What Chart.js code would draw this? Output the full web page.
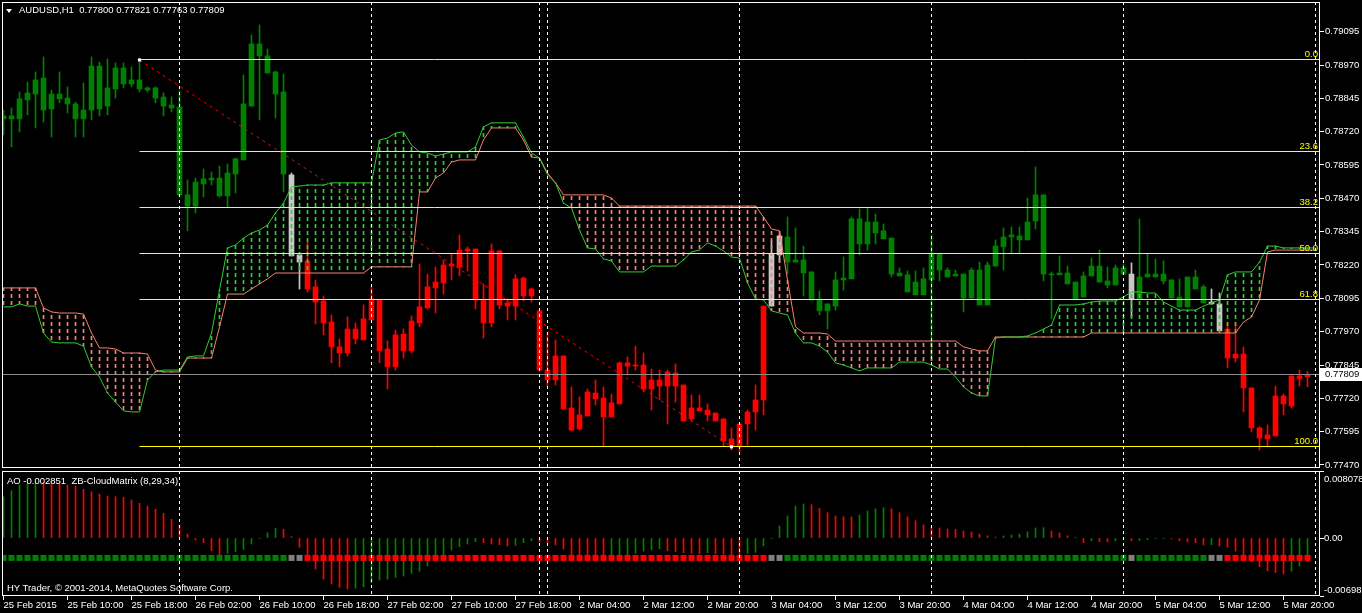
<!DOCTYPE html>
<html>
<head>
<meta charset="utf-8">
<script src="https://cdn.jsdelivr.net/npm/chart.js@4.4.1/dist/chart.umd.min.js"></script>
<style>
  html, body { margin: 0; padding: 0; background: #000; }
  #wrap { position: relative; width: 1362px; height: 613px; overflow: hidden; background: #000; }
  canvas { position: absolute; left: 0; }
  #main { top: 0; }
  #sub { top: 470px; }
  .txt { position: absolute; color: #fff; white-space: pre; line-height: 12px; }
  #tri { position: absolute; left: 6px; top: 9px; width: 0; height: 0;
         border-left: 3px solid transparent; border-right: 3px solid transparent; border-top: 4px solid #fff; }
</style>
</head>
<body>
<div id="wrap">
  <canvas id="main" width="1362" height="470"></canvas>
  <canvas id="sub" width="1362" height="143"></canvas>
  <div id="tri"></div>
  <div class="txt" id="hdr" style="left:19px;top:4px">AUDUSD,H1  0.77800 0.77821 0.77763 0.77809</div>
  <div class="txt" id="aoHdr" style="left:7px;top:475px">AO -0.002851  ZB-CloudMatrix (8,29,34)</div>
  <div class="txt" id="copy" style="left:7px;top:582px">HY Trader, © 2001-2014, MetaQuotes Software Corp.</div>
</div>
<script>
// AUDUSD H1, 25 Feb 2015 02:00 .. 5 Mar 2015 23:00 (164 bars, bar index = x value)
const openP = [
  0.78768, 0.78779, 0.78768, 0.78839, 0.78861, 0.78921, 0.78805, 0.78861, 0.78846, 0.78824,
  0.78768, 0.78801, 0.78966, 0.78816, 0.78880, 0.78959, 0.78899, 0.78914, 0.78884, 0.78884,
  0.78850, 0.78820, 0.78813, 0.78483, 0.78441, 0.78524, 0.78539, 0.78546, 0.78479, 0.78561,
  0.78614, 0.78816, 0.79049, 0.79004, 0.78944, 0.78869, 0.78558, 0.78258, 0.78235, 0.78138,
  0.78085, 0.78006, 0.77913, 0.77890, 0.77980, 0.77939, 0.78014, 0.78089, 0.77905, 0.77838,
  0.77961, 0.77898, 0.78003, 0.78059, 0.78134, 0.78153, 0.78216, 0.78213, 0.78273, 0.78280,
  0.78089, 0.78003, 0.78273, 0.78066, 0.78066, 0.78171, 0.78104, 0.78048, 0.77826, 0.77789,
  0.77879, 0.77684, 0.77605, 0.77654, 0.77740, 0.77721, 0.77650, 0.77699, 0.77853, 0.77841,
  0.77845, 0.77755, 0.77789, 0.77766, 0.77815, 0.77770, 0.77643, 0.77684, 0.77676, 0.77665,
  0.77643, 0.77568, 0.77538, 0.77624, 0.77669, 0.77714, 0.78066, 0.78258, 0.78325, 0.78231,
  0.78239, 0.78194, 0.78089, 0.78048, 0.78066, 0.78164, 0.78168, 0.78393, 0.78299, 0.78381,
  0.78348, 0.78321, 0.78190, 0.78183, 0.78108, 0.78108, 0.78164, 0.78261, 0.78201, 0.78179,
  0.78186, 0.78096, 0.78201, 0.78070, 0.78216, 0.78288, 0.78325, 0.78329, 0.78314, 0.78385,
  0.78483, 0.78186, 0.78183, 0.78190, 0.78156, 0.78100, 0.78179, 0.78216, 0.78160, 0.78145,
  0.78209, 0.78186, 0.78093, 0.78175, 0.78186, 0.78186, 0.78164, 0.78100, 0.78063, 0.78175,
  0.78138, 0.78081, 0.78074, 0.77980, 0.77871, 0.77886, 0.77759, 0.77609, 0.77583, 0.77579,
  0.77729, 0.77691, 0.77804, 0.77800
];
const highP = [
  0.78801, 0.78809, 0.78869, 0.78906, 0.78944, 0.79000, 0.78876, 0.78944, 0.78888, 0.78831,
  0.78903, 0.79000, 0.78981, 0.78993, 0.78978, 0.78978, 0.78963, 0.78989, 0.78888, 0.78888,
  0.78865, 0.78850, 0.78873, 0.78539, 0.78546, 0.78580, 0.78569, 0.78591, 0.78599, 0.78621,
  0.78933, 0.79083, 0.79120, 0.79030, 0.78947, 0.78936, 0.78565, 0.78258, 0.78306, 0.78164,
  0.78104, 0.78033, 0.77943, 0.78025, 0.78003, 0.78070, 0.78138, 0.78089, 0.77935, 0.77976,
  0.77980, 0.78029, 0.78224, 0.78186, 0.78213, 0.78239, 0.78261, 0.78333, 0.78288, 0.78280,
  0.78149, 0.78299, 0.78273, 0.78093, 0.78183, 0.78175, 0.78134, 0.78048, 0.77969, 0.77939,
  0.77879, 0.77763, 0.77725, 0.77755, 0.77789, 0.77763, 0.77736, 0.77856, 0.77875, 0.77916,
  0.77890, 0.77830, 0.77826, 0.77826, 0.77849, 0.77770, 0.77733, 0.77733, 0.77699, 0.77665,
  0.77643, 0.77609, 0.77624, 0.77676, 0.77770, 0.78066, 0.78310, 0.78333, 0.78400, 0.78359,
  0.78291, 0.78194, 0.78123, 0.78074, 0.78194, 0.78250, 0.78400, 0.78430, 0.78434, 0.78411,
  0.78374, 0.78321, 0.78209, 0.78198, 0.78198, 0.78209, 0.78333, 0.78261, 0.78209, 0.78201,
  0.78186, 0.78209, 0.78231, 0.78231, 0.78314, 0.78359, 0.78363, 0.78363, 0.78471, 0.78588,
  0.78483, 0.78194, 0.78254, 0.78216, 0.78156, 0.78194, 0.78246, 0.78276, 0.78213, 0.78220,
  0.78224, 0.78228, 0.78393, 0.78261, 0.78243, 0.78235, 0.78164, 0.78168, 0.78175, 0.78201,
  0.78145, 0.78130, 0.78115, 0.78006, 0.78006, 0.77913, 0.77759, 0.77613, 0.77620, 0.77766,
  0.77736, 0.77804, 0.77826, 0.77821
];
const lowP = [
  0.78708, 0.78663, 0.78719, 0.78783, 0.78734, 0.78756, 0.78700, 0.78828, 0.78790, 0.78700,
  0.78700, 0.78764, 0.78779, 0.78783, 0.78846, 0.78884, 0.78888, 0.78869, 0.78869, 0.78828,
  0.78779, 0.78794, 0.78475, 0.78348, 0.78415, 0.78475, 0.78520, 0.78475, 0.78438, 0.78490,
  0.78614, 0.78816, 0.78764, 0.78940, 0.78771, 0.78494, 0.78254, 0.78130, 0.78119, 0.77999,
  0.77958, 0.77853, 0.77838, 0.77879, 0.77924, 0.77939, 0.78014, 0.77853, 0.77755, 0.77826,
  0.77871, 0.77890, 0.77988, 0.78055, 0.78040, 0.78111, 0.78164, 0.78179, 0.78198, 0.78055,
  0.77946, 0.77988, 0.78055, 0.78014, 0.78014, 0.78085, 0.78081, 0.77826, 0.77766, 0.77770,
  0.77680, 0.77598, 0.77601, 0.77654, 0.77695, 0.77541, 0.77650, 0.77699, 0.77811, 0.77826,
  0.77744, 0.77676, 0.77714, 0.77624, 0.77706, 0.77635, 0.77635, 0.77673, 0.77635, 0.77635,
  0.77541, 0.77526, 0.77519, 0.77545, 0.77601, 0.77658, 0.78066, 0.78231, 0.78186, 0.78231,
  0.78104, 0.78089, 0.78033, 0.77980, 0.78051, 0.78126, 0.78168, 0.78258, 0.78276, 0.78299,
  0.78318, 0.78175, 0.78179, 0.78119, 0.78108, 0.78108, 0.77864, 0.78160, 0.78175, 0.78179,
  0.78044, 0.78096, 0.78070, 0.78070, 0.78216, 0.78201, 0.78265, 0.78265, 0.78314, 0.78355,
  0.78160, 0.78018, 0.78183, 0.78149, 0.78089, 0.78100, 0.78179, 0.78156, 0.78134, 0.78145,
  0.78186, 0.78025, 0.78093, 0.78175, 0.78175, 0.78149, 0.78096, 0.78063, 0.78063, 0.78130,
  0.78078, 0.78074, 0.77973, 0.77834, 0.77856, 0.77669, 0.77594, 0.77526, 0.77538, 0.77579,
  0.77658, 0.77684, 0.77766, 0.77763
];
const closeP = [
  0.78779, 0.78768, 0.78843, 0.78865, 0.78914, 0.78801, 0.78861, 0.78843, 0.78824, 0.78768,
  0.78801, 0.78966, 0.78805, 0.78884, 0.78959, 0.78899, 0.78914, 0.78880, 0.78876, 0.78846,
  0.78816, 0.78809, 0.78483, 0.78441, 0.78531, 0.78543, 0.78546, 0.78479, 0.78565, 0.78618,
  0.78824, 0.79049, 0.79004, 0.78940, 0.78861, 0.78561, 0.78254, 0.78231, 0.78130, 0.78081,
  0.78003, 0.77913, 0.77890, 0.77980, 0.77943, 0.78018, 0.78093, 0.77898, 0.77838, 0.77958,
  0.77898, 0.78010, 0.78063, 0.78138, 0.78156, 0.78220, 0.78224, 0.78276, 0.78280, 0.78089,
  0.78003, 0.78273, 0.78070, 0.78078, 0.78168, 0.78104, 0.78130, 0.77826, 0.77789, 0.77879,
  0.77680, 0.77601, 0.77658, 0.77744, 0.77718, 0.77650, 0.77703, 0.77853, 0.77841, 0.77845,
  0.77755, 0.77789, 0.77766, 0.77819, 0.77766, 0.77635, 0.77684, 0.77673, 0.77658, 0.77635,
  0.77560, 0.77538, 0.77624, 0.77669, 0.77714, 0.78066, 0.78261, 0.78329, 0.78231, 0.78239,
  0.78190, 0.78089, 0.78048, 0.78074, 0.78164, 0.78171, 0.78393, 0.78299, 0.78381, 0.78340,
  0.78318, 0.78186, 0.78179, 0.78119, 0.78156, 0.78168, 0.78261, 0.78201, 0.78175, 0.78186,
  0.78096, 0.78201, 0.78070, 0.78220, 0.78291, 0.78325, 0.78333, 0.78314, 0.78381, 0.78483,
  0.78186, 0.78183, 0.78190, 0.78149, 0.78093, 0.78179, 0.78216, 0.78156, 0.78145, 0.78209,
  0.78186, 0.78093, 0.78175, 0.78186, 0.78175, 0.78160, 0.78096, 0.78063, 0.78175, 0.78130,
  0.78078, 0.78074, 0.77973, 0.77871, 0.77886, 0.77759, 0.77609, 0.77571, 0.77568, 0.77729,
  0.77699, 0.77804, 0.77793, 0.77809
];

// cloud lines (green = fast, salmon = slow), one value per bar plus one bar ahead
const cloudFast = [
  0.78063, 0.78063, 0.78074, 0.78066, 0.78066, 0.77965, 0.77931, 0.77928, 0.77928, 0.77928,
  0.77916, 0.77838, 0.77800, 0.77740, 0.77706, 0.77673, 0.77669, 0.77669, 0.77789, 0.77819,
  0.77826, 0.77826, 0.77826, 0.77875, 0.77879, 0.77879, 0.77965, 0.78126, 0.78284, 0.78295,
  0.78321, 0.78340, 0.78351, 0.78370, 0.78415, 0.78452, 0.78513, 0.78516, 0.78520, 0.78520,
  0.78520, 0.78528, 0.78528, 0.78528, 0.78528, 0.78528, 0.78528, 0.78689, 0.78696, 0.78715,
  0.78719, 0.78670, 0.78644, 0.78640, 0.78629, 0.78636, 0.78644, 0.78644, 0.78644, 0.78663,
  0.78738, 0.78753, 0.78753, 0.78753, 0.78753, 0.78700, 0.78640, 0.78621, 0.78558, 0.78528,
  0.78452, 0.78434, 0.78351, 0.78284, 0.78280, 0.78243, 0.78235, 0.78194, 0.78194, 0.78194,
  0.78194, 0.78216, 0.78216, 0.78216, 0.78216, 0.78239, 0.78269, 0.78276, 0.78303, 0.78291,
  0.78273, 0.78250, 0.78246, 0.78153, 0.78093, 0.78089, 0.78048, 0.78040, 0.78033, 0.77965,
  0.77928, 0.77928, 0.77916, 0.77894, 0.77853, 0.77845, 0.77834, 0.77823, 0.77834, 0.77834,
  0.77834, 0.77834, 0.77856, 0.77856, 0.77856, 0.77856, 0.77845, 0.77830, 0.77830, 0.77800,
  0.77763, 0.77740, 0.77729, 0.77729, 0.77946, 0.77950, 0.77950, 0.77950, 0.77954, 0.77965,
  0.77980, 0.77995, 0.78070, 0.78070, 0.78070, 0.78074, 0.78081, 0.78085, 0.78085, 0.78085,
  0.78100, 0.78119, 0.78119, 0.78115, 0.78115, 0.78081, 0.78066, 0.78051, 0.78051, 0.78051,
  0.78066, 0.78078, 0.78089, 0.78183, 0.78194, 0.78194, 0.78194, 0.78231, 0.78291, 0.78291,
  0.78284, 0.78284, 0.78284, 0.78284, 0.78284
];
const cloudSlow = [
  0.78134, 0.78134, 0.78134, 0.78134, 0.78134, 0.78059, 0.78044, 0.78040, 0.78040, 0.78040,
  0.78036, 0.77965, 0.77909, 0.77909, 0.77905, 0.77890, 0.77890, 0.77890, 0.77886, 0.77826,
  0.77819, 0.77819, 0.77819, 0.77871, 0.77871, 0.77871, 0.77871, 0.77988, 0.78111, 0.78111,
  0.78111, 0.78130, 0.78149, 0.78168, 0.78190, 0.78190, 0.78190, 0.78190, 0.78190, 0.78190,
  0.78190, 0.78190, 0.78190, 0.78190, 0.78190, 0.78190, 0.78213, 0.78213, 0.78213, 0.78213,
  0.78213, 0.78213, 0.78494, 0.78494, 0.78546, 0.78565, 0.78606, 0.78614, 0.78614, 0.78614,
  0.78689, 0.78734, 0.78734, 0.78734, 0.78734, 0.78689, 0.78625, 0.78621, 0.78565, 0.78528,
  0.78483, 0.78483, 0.78483, 0.78483, 0.78483, 0.78483, 0.78471, 0.78441, 0.78441, 0.78441,
  0.78441, 0.78441, 0.78441, 0.78441, 0.78441, 0.78441, 0.78441, 0.78441, 0.78441, 0.78441,
  0.78441, 0.78441, 0.78441, 0.78441, 0.78441, 0.78400, 0.78355, 0.78348, 0.78164, 0.77988,
  0.77965, 0.77965, 0.77965, 0.77961, 0.77935, 0.77935, 0.77935, 0.77935, 0.77935, 0.77935,
  0.77935, 0.77935, 0.77935, 0.77935, 0.77935, 0.77935, 0.77935, 0.77935, 0.77935, 0.77935,
  0.77913, 0.77905, 0.77898, 0.77898, 0.77950, 0.77950, 0.77950, 0.77950, 0.77950, 0.77950,
  0.77950, 0.77950, 0.77950, 0.77950, 0.77950, 0.77950, 0.77965, 0.77965, 0.77965, 0.77965,
  0.77965, 0.77965, 0.77965, 0.77965, 0.77965, 0.77965, 0.77965, 0.77965, 0.77965, 0.77965,
  0.77965, 0.77965, 0.77965, 0.77965, 0.77965, 0.78006, 0.78025, 0.78089, 0.78269, 0.78276,
  0.78276, 0.78276, 0.78276, 0.78276, 0.78276
];

// Awesome Oscillator, one value per bar
const aoValues = [
  0.00498, 0.00571, 0.00639, 0.00659, 0.00671, 0.00667, 0.00659, 0.00651, 0.00639, 0.00627,
  0.00587, 0.00559, 0.00530, 0.00506, 0.00498, 0.00490, 0.00458, 0.00418, 0.00386, 0.00346,
  0.00297, 0.00225, 0.00157, 0.00048, -0.00024, -0.00056, -0.00153, -0.00205, -0.00185, -0.00165,
  -0.00137, -0.00072, -0.00004, 0.00064, 0.00117, 0.00104, 0.00016, -0.00113, -0.00233, -0.00374,
  -0.00494, -0.00554, -0.00595, -0.00615, -0.00607, -0.00587, -0.00538, -0.00506, -0.00494, -0.00474,
  -0.00458, -0.00426, -0.00402, -0.00338, -0.00233, -0.00205, -0.00145, -0.00104, -0.00072, -0.00044,
  -0.00056, -0.00072, -0.00080, -0.00096, -0.00088, -0.00056, -0.00032, -0.00044, -0.00064, -0.00084,
  -0.00133, -0.00205, -0.00217, -0.00233, -0.00245, -0.00257, -0.00233, -0.00213, -0.00201, -0.00185,
  -0.00157, -0.00141, -0.00129, -0.00153, -0.00165, -0.00177, -0.00185, -0.00189, -0.00177, -0.00189,
  -0.00193, -0.00205, -0.00217, -0.00185, -0.00173, -0.00096, -0.00004, 0.00145, 0.00265, 0.00386,
  0.00410, 0.00402, 0.00358, 0.00305, 0.00265, 0.00257, 0.00253, 0.00277, 0.00325, 0.00350,
  0.00366, 0.00350, 0.00305, 0.00257, 0.00209, 0.00157, 0.00129, 0.00121, 0.00108, 0.00104,
  0.00084, 0.00072, 0.00048, 0.00028, 0.00012, 0.00024, 0.00036, 0.00048, 0.00076, 0.00121,
  0.00125, 0.00084, 0.00060, 0.00028, 0.00004, -0.00056, -0.00032, -0.00044, -0.00048, -0.00032,
  -0.00024, -0.00032, -0.00028, -0.00020, -0.00008, -0.00004, -0.00012, -0.00032, -0.00048, -0.00056,
  -0.00084, -0.00080, -0.00096, -0.00113, -0.00157, -0.00205, -0.00285, -0.00346, -0.00394, -0.00418,
  -0.00434, -0.00398, -0.00338, -0.002851
];

// ZB-CloudMatrix state per bar: G = up, R = down, N = neutral (also colours the candles)
const matrixState = (
  'GGGGGGGGGG' + 'GGGGGGGGGG' + 'GGGGGGGGGG' + 'GGGGGGNNRR' + 'RRRRRRRRRR' +
  'RRRRRRRRRR' + 'RRRRRRRRRR' + 'RRRRRRRRRR' + 'RRRRRRRRRR' + 'RRRRRRNNGG' +
  'GGGGGGGGGG' + 'GGGGGGGGGG' + 'GGGGGGGGGG' + 'GGGGGGGGGG' + 'GNGGGGGGGG' +
  'GNNRRRRRRR' + 'RRRR'
).split('');

const timeLabelBars = [0, 8, 16, 24, 32, 40, 48, 56, 64, 72, 80, 88, 96, 104, 112, 120, 128, 136, 144, 152, 160];
const timeLabels = [
  '25 Feb 2015', '25 Feb 10:00', '25 Feb 18:00', '26 Feb 02:00', '26 Feb 10:00', '26 Feb 18:00',
  '27 Feb 02:00', '27 Feb 10:00', '27 Feb 18:00', '2 Mar 04:00', '2 Mar 12:00', '2 Mar 20:00',
  '3 Mar 04:00', '3 Mar 12:00', '3 Mar 20:00', '4 Mar 04:00', '4 Mar 12:00', '4 Mar 20:00',
  '5 Mar 04:00', '5 Mar 12:00', '5 Mar 20:00'
];
const separatorBars = [22, 46, 67, 68, 92, 116, 140, 164];
const priceTicks = [
  0.77470, 0.77595, 0.77720, 0.77845, 0.77970, 0.78095, 0.78220,
  0.78345, 0.78470, 0.78595, 0.78720, 0.78845, 0.78970, 0.79095
];
const aoTicks = [-0.006989, 0, 0.008078];
const aoTickText = ['-0.006989', '0.00', '0.008078'];

// Fibonacci retracement and its trend line
const fibStart = { bar: 17, price: 0.78989 };
const fibEnd = { bar: 91, price: 0.77538 };
const fibLevels = [0, 23.6, 38.2, 50, 61.8, 100];
const fibText = ['0.0', '23.6', '38.2', '50.0', '61.8', '100.0'];

// ---------- look ----------
const X_MIN = -0.1875;
const X_MAX = X_MIN + 1318 / 8;
const PRICE_MIN = 0.7745875;
const PRICE_MAX = 0.7920625;
const AO_MIN = -0.006989;
const AO_MAX = 0.008078;
const MATRIX_LEVEL = -0.0024;

const candleColor = { G: '#008000', R: '#ff0000', N: '#c8c8c8' };
const squareColor = { G: '#008000', R: '#ff0000', N: '#808080' };
const FAST_COLOR = '#32cd32';
const SLOW_COLOR = '#fa8072';

// Tahoma-like narrow face if present, else Arial metrics at a smaller size
const probe = document.createElement('canvas').getContext('2d');
probe.font = '11px "Liberation Sans Narrow", monospace';
const wNarrow = probe.measureText('AUDUSD 0.77800').width;
probe.font = '11px monospace';
const wMono = probe.measureText('AUDUSD 0.77800').width;
const hasNarrow = Math.abs(wNarrow - wMono) > 0.5;
const FAMILY = hasNarrow ? '"Liberation Sans Narrow"' : '"Liberation Sans"';
const FSIZE = hasNarrow ? 11 : 9.5;
const FONT = FSIZE + 'px ' + FAMILY;

for (const id of ['hdr', 'aoHdr', 'copy']) {
  const el = document.getElementById(id);
  el.style.fontFamily = FAMILY;
  el.style.fontSize = FSIZE + 'px';
}

const bars = openP.map((v, i) => i);
const fibPrice = lv => fibStart.price - (fibStart.price - fibEnd.price) * lv / 100;
const lastClose = closeP[closeP.length - 1];

const mainCtx = document.getElementById('main').getContext('2d');
function hatch(color) {
  const c = document.createElement('canvas');
  c.width = 1;
  c.height = 7;
  const g = c.getContext('2d');
  g.fillStyle = color;
  g.fillRect(0, 0, 1, 4);
  return mainCtx.createPattern(c, 'repeat');
}
const fastHatch = hatch(FAST_COLOR);
const slowHatch = hatch(SLOW_COLOR);

function dashedSeparators(chart) {
  const { ctx, chartArea: a, scales: { x } } = chart;
  ctx.save();
  ctx.strokeStyle = '#ffffff';
  ctx.lineWidth = 1;
  ctx.setLineDash([3, 3]);
  for (const b of separatorBars) {
    const px = x.getPixelForValue(b);
    ctx.beginPath();
    ctx.moveTo(px, a.top);
    ctx.lineTo(px, a.bottom);
    ctx.stroke();
  }
  ctx.setLineDash([]);
  ctx.strokeRect(a.left + 0.5, a.top + 0.5, a.right - a.left - 1, a.bottom - a.top - 1);
  ctx.restore();
}

const mainDecor = {
  id: 'mainDecor',
  // flat object lines (fib levels, bid) are nudged onto a whole pixel row so they stay 1px sharp
  beforeDatasetDraw(chart, args) {
    const ds = chart.data.datasets[args.index];
    if (!ds.flat) return;
    const py = chart.scales.y.getPixelForValue(ds.data[0].y);
    chart.ctx.save();
    chart.ctx.translate(0, Math.floor(py) + 0.5 - py);
  },
  afterDatasetDraw(chart, args) {
    if (chart.data.datasets[args.index].flat) chart.ctx.restore();
  },
  afterDatasetsDraw(chart) {
    dashedSeparators(chart);
    const { ctx, chartArea: a, scales: { y } } = chart;
    ctx.save();
    ctx.font = FONT;
    ctx.fillStyle = '#ffff00';
    ctx.textAlign = 'right';
    ctx.textBaseline = 'bottom';
    fibLevels.forEach((lv, k) => {
      ctx.fillText(fibText[k], a.right - 2, Math.floor(y.getPixelForValue(fibPrice(lv))));
    });
    ctx.restore();
  },
  afterDraw(chart) {
    const { ctx, chartArea: a, scales: { y } } = chart;
    const py = Math.floor(y.getPixelForValue(lastClose));
    ctx.save();
    ctx.fillStyle = '#ffffff';
    ctx.fillRect(a.right, py - 6, chart.width - a.right, 13);
    ctx.fillStyle = '#000000';
    ctx.font = FONT;
    ctx.textBaseline = 'middle';
    ctx.fillText(lastClose.toFixed(5), a.right + 5, py + 0.5);
    ctx.restore();
  }
};

const subDecor = {
  id: 'subDecor',
  afterDatasetsDraw(chart) {
    dashedSeparators(chart);
  },
  afterDraw(chart) {
    const { ctx, chartArea: a, scales: { y } } = chart;
    ctx.save();
    ctx.font = FONT;
    ctx.fillStyle = '#ffffff';
    ctx.textBaseline = 'middle';
    aoTicks.forEach((v, k) => {
      const py = Math.min(Math.max(y.getPixelForValue(v), a.top + 8), a.bottom - 6);
      ctx.fillText(aoTickText[k], a.right + 4, py);
    });
    ctx.restore();
  }
};

Chart.defaults.font.family = FAMILY;
Chart.defaults.font.size = FSIZE;

new Chart(mainCtx, {
  type: 'bar',
  data: {
    datasets: [
      {
        label: 'wick',
        order: 10,
        grouped: false,
        barThickness: 1,
        data: bars.map(i => ({ x: i, y: [lowP[i], highP[i]] })),
        backgroundColor: bars.map(i => candleColor[matrixState[i]]),
        borderWidth: 0
      },
      {
        label: 'body',
        order: 9,
        grouped: false,
        barThickness: 5,
        minBarLength: 1,
        data: bars.map(i => ({ x: i, y: [openP[i], closeP[i]] })),
        backgroundColor: bars.map(i => candleColor[matrixState[i]]),
        borderWidth: 0
      },
      {
        label: 'cloud hatch',
        order: 8,
        grouped: false,
        barThickness: 1,
        data: bars.map(i => ({ x: i, y: [cloudFast[i], cloudSlow[i]] })),
        backgroundColor: bars.map(i => cloudFast[i] > cloudSlow[i] ? fastHatch : slowHatch),
        borderWidth: 0
      },
      {
        type: 'line',
        label: 'slow',
        order: 7,
        data: cloudSlow.map((v, i) => ({ x: i, y: v })),
        borderColor: SLOW_COLOR,
        borderWidth: 1,
        pointRadius: 0,
        tension: 0
      },
      {
        type: 'line',
        label: 'fast',
        order: 6,
        data: cloudFast.map((v, i) => ({ x: i, y: v })),
        borderColor: FAST_COLOR,
        borderWidth: 1,
        pointRadius: 0,
        tension: 0
      },
      {
        type: 'line',
        label: 'bid',
        flat: true,
        order: 5,
        data: [{ x: X_MIN, y: lastClose }, { x: X_MAX, y: lastClose }],
        borderColor: '#8c8c8c',
        borderWidth: 1,
        pointRadius: 0
      },
      ...fibLevels.map(lv => ({
        type: 'line',
        label: 'fib ' + lv,
        flat: true,
        order: 4,
        data: [{ x: fibStart.bar, y: fibPrice(lv) }, { x: X_MAX, y: fibPrice(lv) }],
        borderColor: '#ffff00',
        borderWidth: 1,
        pointRadius: 0
      })),
      {
        type: 'line',
        label: 'fib trend',
        order: 3,
        data: [{ x: fibStart.bar, y: fibStart.price }, { x: fibEnd.bar, y: fibEnd.price }],
        borderColor: '#ff0000',
        borderWidth: 1,
        borderDash: [3, 4],
        pointRadius: 0
      },
      {
        type: 'line',
        label: 'anchors',
        order: 2,
        showLine: false,
        data: [{ x: fibStart.bar, y: fibStart.price }, { x: fibEnd.bar, y: fibEnd.price }],
        pointStyle: 'rect',
        pointRadius: 2.2,
        pointBackgroundColor: '#ffffff',
        pointBorderWidth: 0
      }
    ]
  },
  options: {
    responsive: false,
    animation: false,
    events: [],
    devicePixelRatio: 1,
    layout: { autoPadding: false, padding: { left: 2, top: 2, right: 0, bottom: 2 } },
    plugins: { legend: { display: false }, tooltip: { enabled: false } },
    scales: {
      x: {
        type: 'linear',
        display: false,
        offset: false,
        min: X_MIN,
        max: X_MAX
      },
      y: {
        type: 'linear',
        position: 'right',
        min: PRICE_MIN,
        max: PRICE_MAX,
        afterBuildTicks: s => { s.ticks = priceTicks.map(v => ({ value: v })); },
        afterFit: s => { s.width = 42; s.paddingTop = 0; s.paddingBottom = 0; },
        grid: { drawOnChartArea: false, drawTicks: true, tickLength: 4, color: '#ffffff' },
        border: { display: false },
        ticks: {
          color: '#ffffff',
          padding: 1,
          autoSkip: false,
          font: { family: FAMILY, size: FSIZE },
          callback: v => Number(v).toFixed(5)
        }
      }
    }
  },
  plugins: [mainDecor]
});

new Chart(document.getElementById('sub'), {
  type: 'bar',
  data: {
    datasets: [
      {
        label: 'AO',
        order: 2,
        grouped: false,
        barThickness: 1,
        data: aoValues.map((v, i) => ({ x: i, y: v })),
        backgroundColor: aoValues.map((v, i) => (i === 0 || v > aoValues[i - 1]) ? '#008000' : '#ff0000'),
        borderWidth: 0
      },
      {
        type: 'line',
        label: 'ZB-CloudMatrix',
        order: 1,
        showLine: false,
        data: bars.map(i => ({ x: i, y: MATRIX_LEVEL })),
        pointStyle: 'rect',
        pointRadius: 4.25,
        pointBackgroundColor: bars.map(i => squareColor[matrixState[i]]),
        pointBorderWidth: 0
      }
    ]
  },
  options: {
    responsive: false,
    animation: false,
    events: [],
    devicePixelRatio: 1,
    layout: { autoPadding: false, padding: { left: 2, top: 1, right: 0, bottom: 0 } },
    plugins: { legend: { display: false }, tooltip: { enabled: false } },
    scales: {
      x: {
        type: 'linear',
        offset: false,
        min: X_MIN,
        max: X_MAX,
        afterBuildTicks: s => { s.ticks = timeLabelBars.map(v => ({ value: v })); },
        afterFit: s => { s.height = 17; s.paddingLeft = 0; s.paddingRight = 0; },
        grid: { drawOnChartArea: false, drawTicks: true, tickLength: 4, color: '#ffffff', offset: false },
        border: { display: false },
        ticks: {
          color: '#ffffff',
          align: 'start',
          padding: 0,
          autoSkip: false,
          maxRotation: 0,
          minRotation: 0,
          font: { family: FAMILY, size: FSIZE },
          callback: (v, i) => timeLabels[i]
        }
      },
      y: {
        type: 'linear',
        position: 'right',
        min: AO_MIN,
        max: AO_MAX,
        afterBuildTicks: s => { s.ticks = aoTicks.map(v => ({ value: v })); },
        afterFit: s => { s.width = 42; s.paddingTop = 0; s.paddingBottom = 0; },
        grid: { drawOnChartArea: false, drawTicks: true, tickLength: 4, color: '#ffffff' },
        border: { display: false },
        ticks: { display: false }
      }
    }
  },
  plugins: [subDecor]
});
</script>
</body>
</html>
